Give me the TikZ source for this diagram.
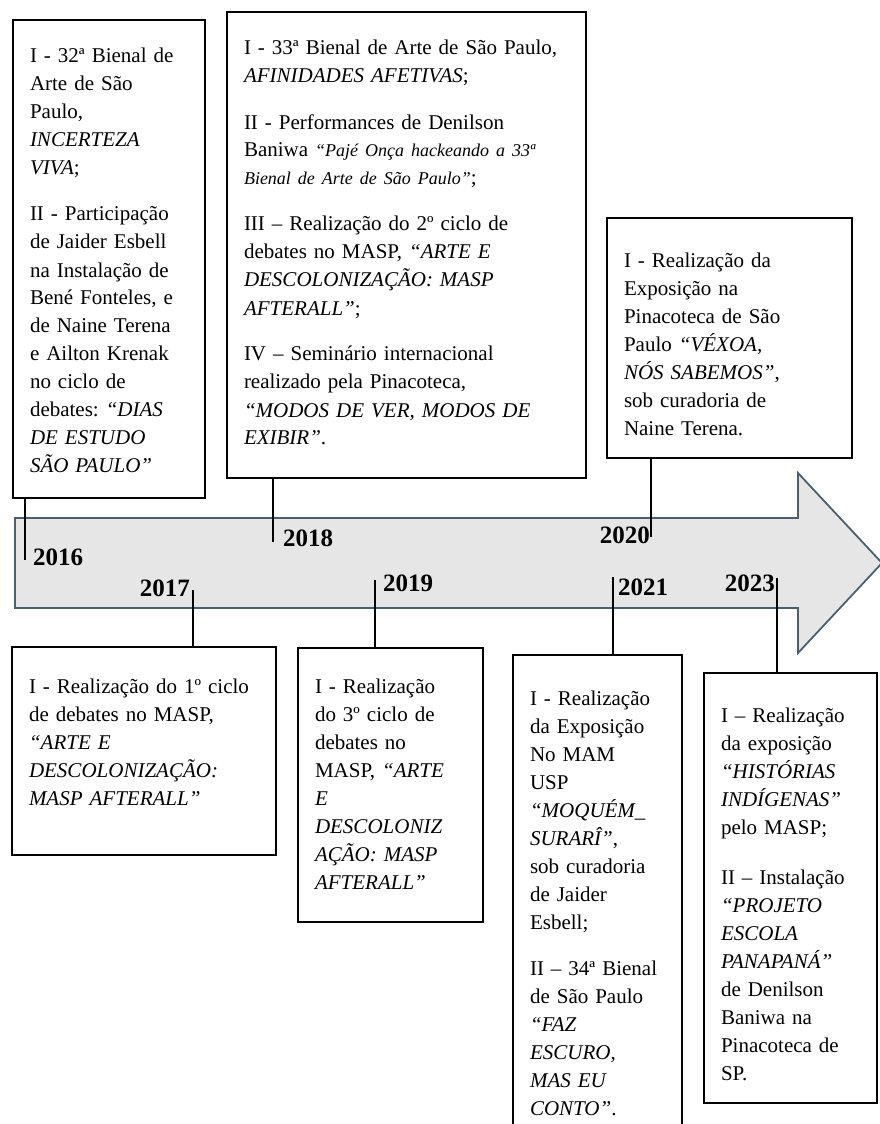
\documentclass[tikz,border=0pt]{standalone}
\usepackage{fontspec}
\setmainfont{Liberation Serif}
\frenchspacing
\definecolor{TimelineFill}{RGB}{230,230,230}
\definecolor{TimelineEdge}{RGB}{72,96,112}
\newcommand{\boxfont}{\fontsize{21}{28}\selectfont\hyphenpenalty=10000}
\newcommand{\yearfont}{\fontsize{25}{30}\selectfont\bfseries}
\newcommand{\smallit}{\fontsize{18}{28}\selectfont\itshape}

\begin{document}
\begin{tikzpicture}[x=1pt,y=-1pt,
  evbox/.style={draw,line width=2.6pt,anchor=north west,outer sep=0pt,inner xsep=17pt,inner ysep=0pt,align=left,font=\boxfont},
  year/.style={font=\yearfont,inner sep=0pt},
  link/.style={line width=2.6pt},
  timeline/.style={fill=TimelineFill,draw=TimelineEdge,line width=1.8pt,line join=miter}]
\useasboundingbox (0,0) rectangle (880,1124);

% timeline arrow
\draw[timeline] (15,518) -- (798,518) -- (798,473) -- (882,563) -- (798,653) -- (798,608) -- (15,608) -- cycle;

% events above the arrow
\node[evbox,text width=158pt,text height=43pt,text depth=435pt] (b2016) at (13,20) {%
I - 32ª Bienal de\\
Arte de São\\
Paulo,\\
\textit{INCERTEZA}\\
\textit{VIVA};\\[18pt]
II - Participação\\
de Jaider Esbell\\
na Instalação de\\
Bené Fonteles, e\\
de Naine Terena\\
e Ailton Krenak\\
no ciclo de\\
debates: \textit{“DIAS}\\
\textit{DE ESTUDO}\\
\textit{SÃO PAULO”}};
\node[evbox,text width=325pt,text height=43pt,text depth=423pt] (b2018) at (227,12) {%
I - 33ª Bienal de Arte de São Paulo,\\
\textit{AFINIDADES AFETIVAS};\\[18pt]
II - Performances de Denilson\\
Baniwa {\smallit “Pajé Onça hackeando a 33ª}\\
{\smallit Bienal de Arte de São Paulo”};\\[18pt]
III – Realização do 2º ciclo de\\
debates no MASP, \textit{“ARTE E}\\
\textit{DESCOLONIZAÇÃO: MASP}\\
\textit{AFTERALL”};\\[18pt]
IV – Seminário internacional\\
realizado pela Pinacoteca,\\
\textit{“MODOS DE VER, MODOS DE}\\
\textit{EXIBIR”}.};
\node[evbox,text width=211pt,text height=49pt,text depth=191pt] (b2020) at (607,218) {%
I - Realização da\\
Exposição na\\
Pinacoteca de São\\
Paulo \textit{“VÉXOA,}\\
\textit{NÓS SABEMOS”},\\
sob curadoria de\\
Naine Terena.};

% events below the arrow
\node[evbox,text width=230pt,text height=46pt,text depth=162pt] (b2017) at (12,647) {%
I - Realização do 1º ciclo\\
de debates no MASP,\\
\textit{“ARTE E}\\
\textit{DESCOLONIZAÇÃO:}\\
\textit{MASP AFTERALL”}};
\node[evbox,text width=151pt,text height=45pt,text depth=229pt] (b2019) at (298,648) {%
I - Realização\\
do 3º ciclo de\\
debates no\\
MASP, \textit{“ARTE}\\
\textit{E}\\
\textit{DESCOLONIZ}\\
\textit{AÇÃO: MASP}\\
\textit{AFTERALL”}};
\node[evbox,text width=135pt,text height=50pt,text depth=430pt] (b2021) at (513,655) {%
I - Realização\\
da Exposição\\
No MAM\\
USP\\
\textit{“MOQUÉM\_}\\
\textit{SURARÎ”},\\
sob curadoria\\
de Jaider\\
Esbell;\\[18pt]
II – 34ª Bienal\\
de São Paulo\\
\textit{“FAZ}\\
\textit{ESCURO,}\\
\textit{MAS EU}\\
\textit{CONTO”}.};
\node[evbox,text width=139pt,text height=49pt,text depth=381pt] (b2023) at (704,673) {%
I – Realização\\
da exposição\\
\textit{“HISTÓRIAS}\\
\textit{INDÍGENAS”}\\
pelo MASP;\\[22pt]
II – Instalação\\
\textit{“PROJETO}\\
\textit{ESCOLA}\\
\textit{PANAPANÁ”}\\
de Denilson\\
Baniwa na\\
Pinacoteca de\\
SP.};

% years
\foreach \yr/\px/\py/\anc in {2016/33/557/west,2017/190/588/east,2018/283/538/west,
  2019/383/583/west,2020/650/535/east,2021/618/587/west,2023/775/583/east} {
  \node[year,anchor=\anc] (y\yr) at (\px,\py) {\yr};
}

% connectors
\foreach \yr/\lx/\ly/\side in {2016/25/560/south,2018/273/542/south,2020/651/537/south,
  2017/193/590/north,2019/375/580/north,2021/613/577/north,2023/777/578/north} {
  \coordinate (k\yr) at (\lx,\ly);
  \draw[link] (k\yr) -- (k\yr |- b\yr.\side);
}
\end{tikzpicture}
\end{document}
